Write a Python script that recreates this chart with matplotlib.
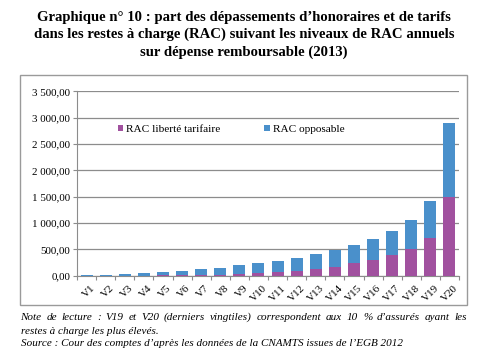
import matplotlib
matplotlib.use("Agg")
import matplotlib.pyplot as plt
from matplotlib.patches import Rectangle
import numpy as np

categories = [f"V{i}" for i in range(1, 21)]
rac_liberte = [0, 1, 2, 3, 5, 7, 10, 15, 30, 46, 70, 95, 127, 171, 236, 304, 400, 513, 717, 1502]
rac_total = [5, 19, 38, 57, 76, 95, 127, 152, 198, 236, 285, 342, 412, 489, 584, 698, 844, 1053, 1420, 2897]
rac_opposable = [t - l for t, l in zip(rac_total, rac_liberte)]
yticks = [0, 500, 1000, 1500, 2000, 2500, 3000, 3500]

PURPLE = "#A1519F"
BLUE = "#4A90CB"
GRID = "#8C8C8C"
SERIF = "Liberation Serif"

plt.rcParams['font.family'] = [SERIF, 'DejaVu Serif']

W, H = 490, 354
fig = plt.figure(figsize=(4.9, 3.54), dpi=100)
fig.patch.set_facecolor("white")

def fx(px):
    return px / W

def fy(py):
    return 1 - py / H

# outer chart frame
fig.patches.append(Rectangle((fx(20), fy(305)), fx(467) - fx(20), fy(75) - fy(305),
                             transform=fig.transFigure, fill=False,
                             edgecolor="#9A9A9A", linewidth=1.0))

ax = fig.add_axes([fx(77), fy(275.7), fx(459) - fx(77), fy(91.3) - fy(275.7)])
x = np.arange(len(categories))
w = 0.63
ax.bar(x, rac_liberte, width=w, color=PURPLE, label="RAC liberté tarifaire", zorder=3)
ax.bar(x, rac_opposable, width=w, bottom=rac_liberte, color=BLUE, label="RAC opposable", zorder=3)

ax.set_xlim(-0.5, len(categories) - 0.5)
ax.set_ylim(0, 3500)
ax.set_yticks(yticks)
ax.set_yticklabels([f"{v:,.2f}".replace(",", " ").replace(".", ",") for v in yticks],
                   fontsize=7.9, family=SERIF)
ax.yaxis.grid(True, color=GRID, linewidth=0.9, zorder=0)
ax.set_axisbelow(True)

for s in ["top", "right"]:
    ax.spines[s].set_visible(False)
ax.spines["left"].set_color(GRID)
ax.spines["bottom"].set_color(GRID)
ax.tick_params(axis="y", length=3, color=GRID, pad=2)

# x ticks between categories
ax.set_xticks(np.arange(len(categories) + 1) - 0.5)
ax.set_xticklabels([""] * (len(categories) + 1))
ax.tick_params(axis="x", length=3, color=GRID, direction="out")
for i, c in enumerate(categories):
    ax.text(i + 0.2, -150, c, rotation=45, ha="right", va="top", fontsize=7.9,
            family=SERIF, rotation_mode="anchor")

ax.legend(loc="center left", bbox_to_anchor=(0.095, 0.795), ncol=2, frameon=False,
          handlelength=0.5, handleheight=0.5, handletextpad=0.25,
          columnspacing=3.9, borderaxespad=0, prop={"family": SERIF, "size": 8.1})

title_lines = ["Graphique n° 10 : part des dépassements d’honoraires et de tarifs",
               "dans les restes à charge (RAC) suivant les niveaux de RAC annuels",
               "sur dépense remboursable (2013)"]
for k, line in enumerate(title_lines):
    fig.text(fx(244), fy(17 + 17.5 * k), line, ha="center", va="center", fontsize=10.6,
             fontweight="bold", family=SERIF)

note1 = "Note de lecture : V19 et V20 (derniers vingtiles) correspondent aux 10 % d’assurés ayant les"
note2 = "restes à charge les plus élevés."
note3 = "Source : Cour des comptes d’après les données de la CNAMTS issues de l’EGB 2012"
NFS = 8.0

# justified first note line
renderer = fig.canvas.get_renderer()
words = note1.split(" ")
texts = [fig.text(0, fy(317), wd, ha="left", va="center", fontsize=NFS, style="italic",
                  family=SERIF) for wd in words]
widths = [t.get_window_extent(renderer).width for t in texts]
left, right = 20.5, 467
gap = (right - left - sum(widths)) / (len(words) - 1)
pos = left
for t, wdt in zip(texts, widths):
    t.set_x(fx(pos))
    pos += wdt + gap

fig.text(fx(20.5), fy(331), note2, ha="left", va="center", fontsize=NFS, style="italic", family=SERIF)
fig.text(fx(20.5), fy(344), note3, ha="left", va="center", fontsize=NFS, style="italic", family=SERIF)

fig.savefig("out.png", dpi=100, facecolor="white")
